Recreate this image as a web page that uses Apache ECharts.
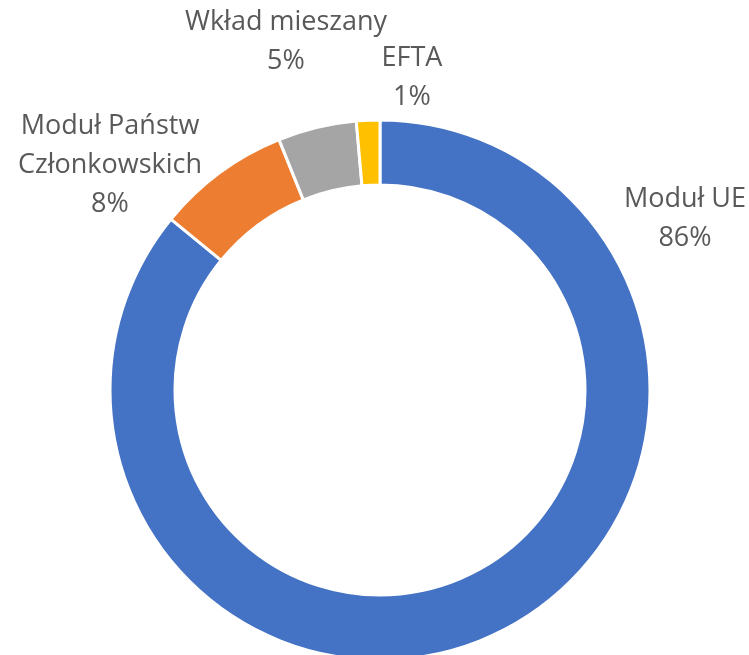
<!DOCTYPE html>
<html>
<head>
<meta charset="utf-8">
<script src="https://cdn.jsdelivr.net/npm/echarts@6/dist/echarts.min.js"></script>
<style>
  html, body { margin: 0; padding: 0; background: #fff; }
  #main { width: 749px; height: 655px; }
</style>
</head>
<body>
<div id="main"></div>
<script>
const categories = ['Moduł UE', 'Moduł Państw\nCzłonkowskich', 'Wkład mieszany', 'EFTA'];
const values = [85.9, 8.0, 4.7, 1.4];
const colors = ['#4472C4', '#ED7D31', '#A5A5A5', '#FFC000'];

// where Excel put the data labels (block centres)
const labelPos = [[685, 219], [110, 165], [286, 42], [412, 78]];

const chart = echarts.init(document.getElementById('main'));

chart.setOption({
  animation: false,
  series: [
    {
      type: 'pie',
      center: [380, 390],
      radius: [205, 270],
      startAngle: 90,
      clockwise: true,
      percentPrecision: 0,
      itemStyle: {
        borderColor: '#fff',
        borderWidth: 3
      },
      label: {
        show: true,
        position: 'outside',
        formatter: '{b}\n{d}%',
        color: '#595959',
        fontFamily: 'Open Sans',
        fontSize: 27,
        lineHeight: 39,
        align: 'center',
        overflow: 'none'
      },
      labelLine: { show: false },
      labelLayout: function (params) {
        const p = labelPos[params.dataIndex];
        return { x: p[0], y: p[1], align: 'center', verticalAlign: 'middle' };
      },
      data: categories.map((name, i) => ({
        name: name,
        value: values[i],
        itemStyle: { color: colors[i] }
      }))
    }
  ]
});
</script>
</body>
</html>
